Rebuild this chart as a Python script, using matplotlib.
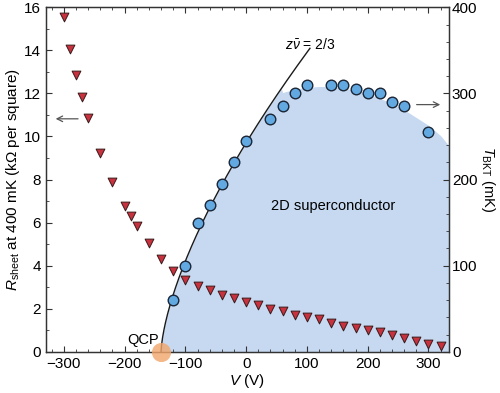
import matplotlib
matplotlib.use('Agg')
import matplotlib.pyplot as plt
import numpy as np
from matplotlib.ticker import MultipleLocator

plt.rcParams['font.family'] = ['Liberation Sans', 'DejaVu Sans']
plt.rcParams['mathtext.fontset'] = 'custom'
plt.rcParams['mathtext.rm'] = 'Liberation Sans'
plt.rcParams['mathtext.it'] = 'Liberation Sans:italic'

# sheet resistance at 400 mK (left axis)
v_r = [-300, -290, -280, -270, -260, -240, -220, -200, -190, -180, -160, -140,
       -120, -100, -80, -60, -40, -20, 0, 20, 40, 60, 80, 100, 120, 140, 160,
       180, 200, 220, 240, 260, 280, 300, 320]
r_sheet = [15.55, 14.06, 12.85, 11.83, 10.85, 9.23, 7.88, 6.78, 6.31, 5.85, 5.04,
           4.30, 3.75, 3.33, 3.06, 2.87, 2.65, 2.51, 2.33, 2.16, 2.00, 1.88, 1.72,
           1.61, 1.51, 1.34, 1.21, 1.09, 0.99, 0.90, 0.79, 0.65, 0.48, 0.36, 0.27]

# BKT transition temperature (right axis)
v_t = [-120, -100, -80, -60, -40, -20, 0, 40, 60, 80, 100, 140, 160, 180, 200,
       220, 240, 260, 300]
t_bkt = [60, 100, 150, 170, 195, 220, 245, 270, 285, 300, 310, 310, 310, 305,
         300, 300, 290, 285, 255]

# critical point and z*nu = 2/3 fit
v_c = -140
amp = 9.0
v_line_end = 105

# upper edge of the superconducting dome
dome_v = [60, 80, 100, 120, 140, 160, 180, 200, 220, 240, 260, 280, 300, 320, 335]
dome_t = [301, 305, 307, 308, 308, 306, 303.5, 299.5, 294.5, 288, 281, 272, 263, 251, 238]

fig = plt.figure(figsize=(5.0, 3.93), dpi=100)
ax = fig.add_axes([0.0912, 0.105, 0.807, 0.8764])
ax2 = ax.twinx()

# fill (drawn on ax2, temperature scale)
v_fit = np.linspace(v_c, 58, 200)
t_fit = amp * (v_fit - v_c) ** (2.0 / 3.0)
fill_v = np.concatenate([v_fit, dome_v])
fill_t = np.concatenate([t_fit, dome_t])
ax2.fill_between(fill_v, 0, fill_t, color='#c6d9f1', lw=0, zorder=0)

v_full = np.linspace(v_c, v_line_end, 300)
ax2.plot(v_full, amp * (v_full - v_c) ** (2.0 / 3.0), color='#1a1a1a', lw=1.0, zorder=2)

ax2.scatter(v_t, t_bkt, s=58, facecolor='#62a9e1', edgecolor='#1b2536', lw=1.0, zorder=4)

ax.set_zorder(ax2.get_zorder() + 1)
ax.patch.set_visible(False)
ax.scatter(v_r, r_sheet, marker='v', s=40, facecolor='#c8323f', edgecolor='#3a1a1a',
           lw=0.7, zorder=5)

# QCP marker
ax.scatter([v_c], [0], s=190, color='#f2a66b', alpha=0.8, lw=0, zorder=6, clip_on=False)
ax.text(-170, 0.55, 'QCP', ha='center', va='center', fontsize=10.5)

ax.text(143, 6.75, '2D superconductor', ha='center', va='center', fontsize=10.5)
ax2.text(106, 357, r'$z\bar{\nu}$ = 2/3', ha='center', va='center', fontsize=10)

# arrows
ax.annotate('', xy=(-318, 10.82), xytext=(-272, 10.82),
            arrowprops=dict(arrowstyle='->', color='#555555', lw=0.9))
ax2.annotate('', xy=(324, 287), xytext=(276, 287),
             arrowprops=dict(arrowstyle='->', color='#555555', lw=0.9))

ax.set_xlim(-330, 334)
ax.set_ylim(0, 16)
ax2.set_ylim(0, 400)

ax.xaxis.set_major_locator(MultipleLocator(100))
ax.xaxis.set_minor_locator(MultipleLocator(20))
ax.yaxis.set_major_locator(MultipleLocator(2))
ax.yaxis.set_minor_locator(MultipleLocator(1))
ax2.yaxis.set_major_locator(MultipleLocator(100))
ax2.yaxis.set_minor_locator(MultipleLocator(20))

ax.tick_params(which='both', direction='in', top=True, color='#333333', labelsize=11)
ax.tick_params(which='major', length=4)
ax.tick_params(which='minor', length=2.5)
ax2.tick_params(which='both', direction='in', color='#333333', labelsize=11, pad=2)
ax2.tick_params(which='major', length=4)
ax2.tick_params(which='minor', length=2.5)

ax.set_xlabel(r'$V$ (V)', fontsize=11, labelpad=1)
ax.set_ylabel(r'$R_{\rm sheet}$ at 400 mK (k$\Omega$ per square)', fontsize=11, labelpad=1)
ax2.set_ylabel(r'$T_{\rm BKT}$ (mK)', fontsize=10.5, rotation=270, labelpad=14)

for a in (ax, ax2):
    for s in a.spines.values():
        s.set_color('#333333')
        s.set_linewidth(0.9)

fig.savefig('out.png', dpi=100)
